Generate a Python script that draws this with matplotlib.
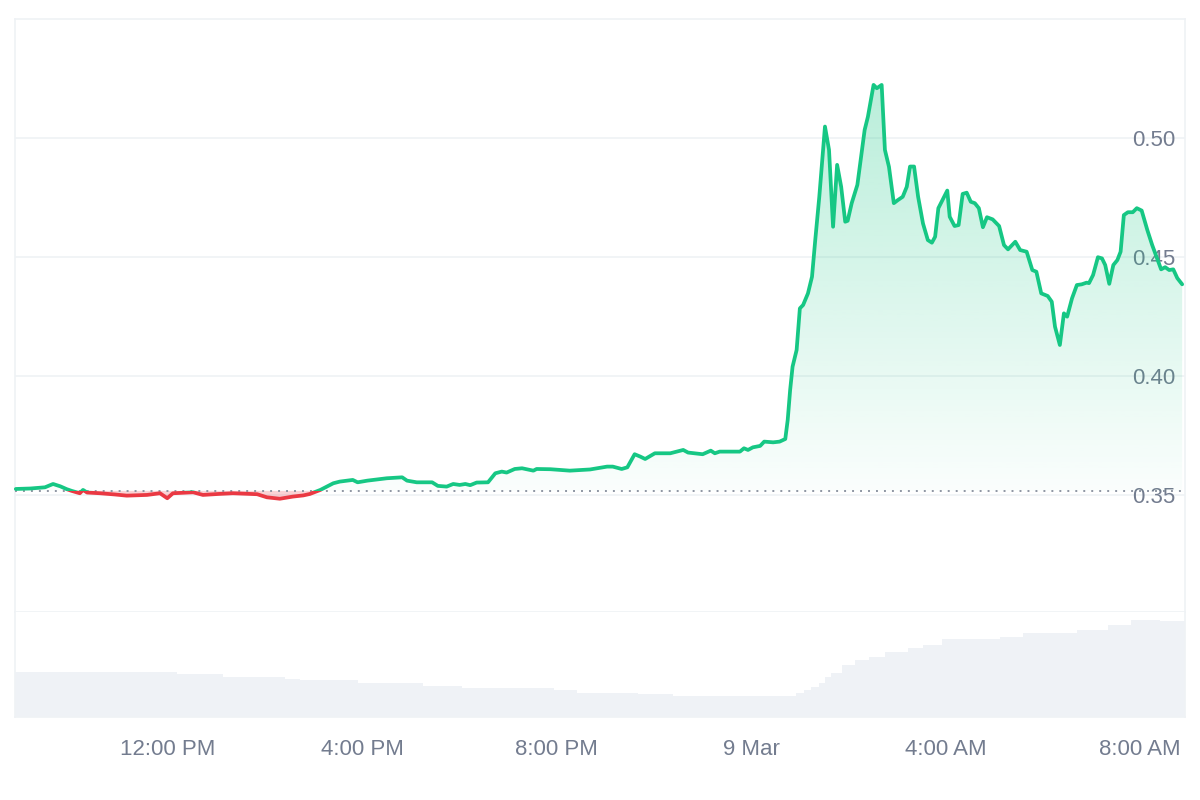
import numpy as np
import matplotlib
matplotlib.use("Agg")
import matplotlib.pyplot as plt
from matplotlib.patches import Rectangle
from matplotlib.path import Path
from matplotlib.transforms import blended_transform_factory, offset_copy
from matplotlib.colors import to_rgb

# ---- data (minutes after 08:51, 8 Mar) ----
minutes = [1, 19, 37, 47, 56, 64, 70, 80, 84, 89, 105, 123, 138, 163, 179, 188, 195,
           220, 232, 251, 269, 299, 311, 327, 343, 356, 364, 377, 393, 401, 417, 423,
           435, 459, 478, 484, 496, 515, 522, 533, 541, 549, 556, 562, 570, 584, 593,
           601, 607, 617, 626, 640, 644, 661, 685, 710, 731, 738, 749, 756, 765, 772,
           778, 790, 809, 825, 831, 849, 859, 864, 870, 895, 900, 905, 911, 920, 925,
           936, 944, 951, 954, 957, 960, 965, 969, 973, 979, 984, 988, 993, 1000, 1005,
           1010, 1015, 1020, 1025, 1028, 1033, 1040, 1049, 1053, 1060, 1064, 1070, 1074,
           1079, 1085, 1090, 1096, 1101, 1105, 1110, 1115, 1121, 1127, 1132, 1136, 1140,
           1144, 1151, 1154, 1160, 1165, 1170, 1175, 1180, 1185, 1190, 1195, 1200, 1207,
           1215, 1221, 1226, 1235, 1241, 1249, 1256, 1261, 1267, 1275, 1280, 1284, 1290,
           1295, 1299, 1305, 1311, 1317, 1323, 1326, 1331, 1337, 1342, 1346, 1351, 1356,
           1361, 1365, 1369, 1374, 1380, 1385, 1391, 1398, 1404, 1409, 1415, 1420, 1425,
           1430, 1435, 1441]
prices = [0.3525, 0.3527, 0.3532, 0.3546, 0.3536, 0.3524, 0.3517, 0.3507, 0.3521, 0.3510,
          0.3507, 0.3502, 0.3497, 0.3500, 0.3507, 0.3486, 0.3507, 0.3511, 0.3500, 0.3504,
          0.3507, 0.3503, 0.3490, 0.3484, 0.3493, 0.3498, 0.3504, 0.3521, 0.3549, 0.3556,
          0.3563, 0.3553, 0.3560, 0.3570, 0.3574, 0.3560, 0.3553, 0.3553, 0.3538, 0.3535,
          0.3546, 0.3542, 0.3546, 0.3541, 0.3552, 0.3553, 0.3591, 0.3598, 0.3594, 0.3609,
          0.3612, 0.3602, 0.3609, 0.3608, 0.3602, 0.3607, 0.3619, 0.3619, 0.3609, 0.3616,
          0.3671, 0.3661, 0.3651, 0.3675, 0.3675, 0.3689, 0.3678, 0.3671, 0.3686, 0.3675,
          0.3682, 0.3682, 0.3696, 0.3689, 0.3700, 0.3706, 0.3724, 0.3721, 0.3724, 0.3735,
          0.3815, 0.3941, 0.4039, 0.4109, 0.4284, 0.4298, 0.4347, 0.4417, 0.4571, 0.4753,
          0.5048, 0.4950, 0.4627, 0.4887, 0.4795, 0.4648, 0.4652, 0.4726, 0.4803, 0.5034,
          0.5089, 0.5223, 0.5209, 0.5223, 0.4950, 0.4879, 0.4726, 0.4739, 0.4753, 0.4795,
          0.4880, 0.4880, 0.4753, 0.4641, 0.4571, 0.4560, 0.4585, 0.4705, 0.4732, 0.4779,
          0.4669, 0.4630, 0.4634, 0.4765, 0.4770, 0.4732, 0.4726, 0.4705, 0.4625, 0.4667,
          0.4658, 0.4630, 0.4550, 0.4532, 0.4564, 0.4529, 0.4522, 0.4445, 0.4438, 0.4347,
          0.4336, 0.4312, 0.4207, 0.4130, 0.4263, 0.4249, 0.4326, 0.4382, 0.4385, 0.4392,
          0.4390, 0.4424, 0.4499, 0.4494, 0.4466, 0.4387, 0.4466, 0.4487, 0.4522, 0.4676,
          0.4688, 0.4688, 0.4705, 0.4695, 0.4613, 0.4550, 0.4504, 0.4448, 0.4457, 0.4445,
          0.4448, 0.4411, 0.4385]
baseline = 0.3517

vol_minutes = [0, 200, 257, 333, 352, 423, 504, 552, 665, 694, 769, 812, 964, 974, 983,
               993, 1000, 1007, 1021, 1037, 1054, 1074, 1102, 1121, 1144, 1216, 1244,
               1311, 1349, 1378, 1414]
volume = [4.53, 4.30, 4.03, 3.85, 3.70, 3.43, 3.10, 2.87, 2.70, 2.43, 2.27, 2.10, 2.40,
          2.70, 3.00, 3.40, 4.00, 4.40, 5.20, 5.70, 6.00, 6.50, 6.90, 7.20, 7.80, 8.00,
          8.40, 8.70, 9.20, 9.70, 9.60]
x_end = 1444.5

tick_minutes = [189, 429, 669, 909, 1149, 1389]
tick_labels = ["12:00 PM", "4:00 PM", "8:00 PM", "9 Mar", "4:00 AM", "8:00 AM"]
y_ticks = [0.35, 0.40, 0.45, 0.50]

GREEN = "#16c784"
RED = "#ea3943"
GRID = "#eff2f5"
TEXT = "#737c8f"
FONT = "Liberation Sans"

fig = plt.figure(figsize=(12, 8), dpi=100)
ax = fig.add_axes([0.0125, 0.235, 0.975, 0.74125])
axv = fig.add_axes([0.0125, 0.10375, 0.975, 0.13125], sharex=ax)

t = np.array(minutes, dtype=float)
p = np.array(prices)

ax.set_xlim(0, x_end)
ax.set_ylim(0.3008, 0.5500)

# grid lines
for v in y_ticks:
    ax.axhline(v, color=GRID, lw=1.2, zorder=1)

# tick labels inside on right
tr = offset_copy(blended_transform_factory(ax.transAxes, ax.transData),
                 fig=fig, x=0, y=-3, units="dots")
for v in y_ticks:
    ax.text(0.9915, v, f"{v:.2f}", transform=tr, ha="right", va="center",
            fontsize=16, color=TEXT, family=FONT, zorder=2)

# green gradient fill
fb = ax.fill_between(t, p, baseline, where=p >= baseline, interpolate=True,
                     facecolor="none", edgecolor="none")
clip = Path.make_compound_path(*fb.get_paths())
top = p.max()
n = 256
grad = np.zeros((n, 1, 4))
grad[:, 0, :3] = to_rgb(GREEN)
grad[:, 0, 3] = np.linspace(0.02, 0.30, n)
im = ax.imshow(grad, extent=[0, x_end, baseline, top], origin="lower",
               aspect="auto", zorder=2, interpolation="bilinear")
im.set_clip_path(clip, transform=ax.transData)

# red fill
ax.fill_between(t, p, baseline, where=p < baseline, interpolate=True,
                color=RED, alpha=0.22, lw=0, zorder=2)

# baseline dotted
ax.axhline(baseline, color="#8f96a3", lw=1.4, ls=(0, (1, 3.1)), zorder=3)

# price line split at baseline
lg, = ax.plot(t, p, color=GREEN, lw=2.7, zorder=4, solid_joinstyle="round",
              solid_capstyle="round")
lr, = ax.plot(t, p, color=RED, lw=2.7, zorder=4, solid_joinstyle="round",
              solid_capstyle="round")
lg.set_clip_path(Rectangle((-10, baseline), x_end + 20, 1, transform=ax.transData))
lr.set_clip_path(Rectangle((-10, baseline - 1), x_end + 20, 1, transform=ax.transData))

ax.set_yticks([])
ax.tick_params(axis="x", bottom=False, labelbottom=False)
for s in ax.spines.values():
    s.set_color(GRID)
    s.set_linewidth(1.2)

# volume
widths = np.diff(vol_minutes + [x_end])
axv.bar(vol_minutes, volume, width=widths, align="edge", color="#eff2f6", lw=0)
axv.set_ylim(0, 10.5)
axv.set_yticks([])
axv.set_xticks(tick_minutes)
axv.set_xticklabels(tick_labels, fontsize=16, color=TEXT, family=FONT)
axv.tick_params(axis="x", length=0, pad=16)
axv.spines["top"].set_visible(False)
for k in ["left", "right", "bottom"]:
    axv.spines[k].set_color(GRID)
    axv.spines[k].set_linewidth(1.2)
axv.set_xlim(0, x_end)

fig.savefig("out.png", dpi=100, facecolor="white")
